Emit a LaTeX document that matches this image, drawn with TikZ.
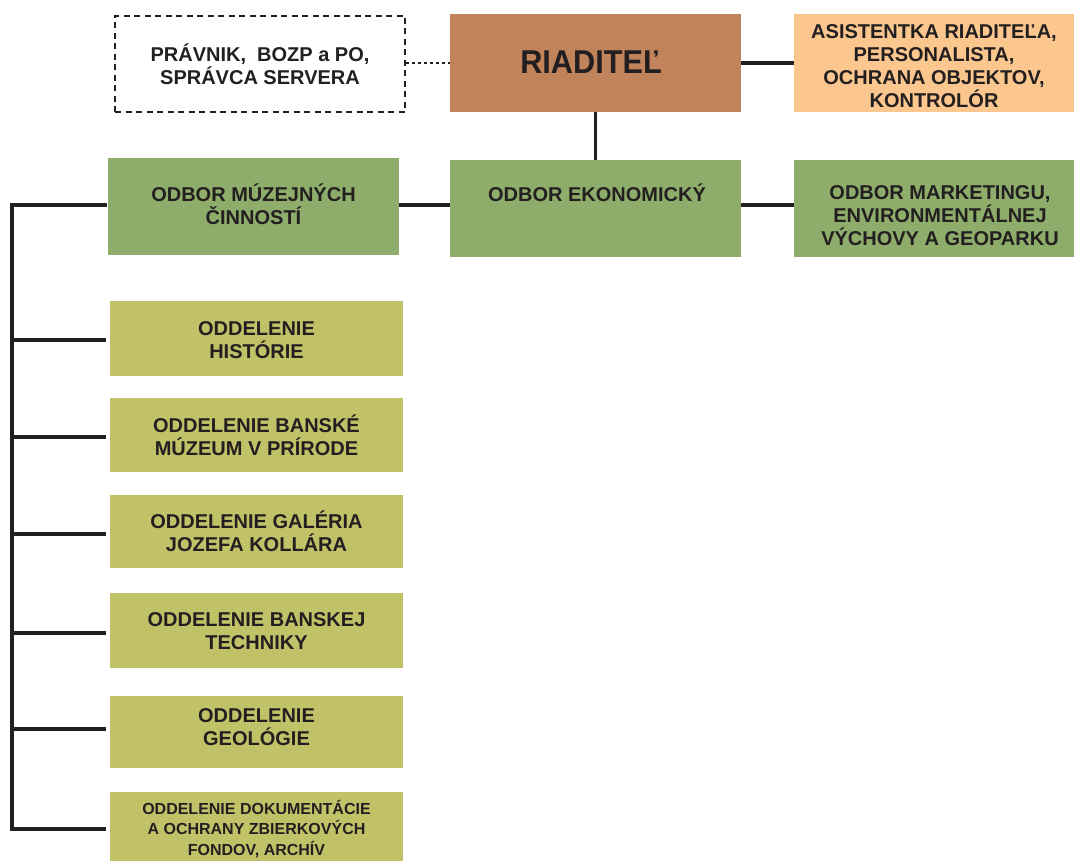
\documentclass[tikz,border=0pt]{standalone}
\usepackage{fontspec}
\setmainfont{Liberation Sans}
\definecolor{ink}{HTML}{231F20}
\definecolor{brown}{HTML}{C1845A}
\definecolor{peach}{HTML}{FBC78E}
\definecolor{grn}{HTML}{8EAD6B}
\definecolor{olive}{HTML}{C1C268}
\tikzset{
  box/.style={rectangle, inner sep=0pt, draw=none},
  lbl/.style={text=ink, font=\fontsize{20}{23}\selectfont\bfseries, align=center, inner sep=0pt},
  small/.style={text=ink, font=\fontsize{16}{20.5}\selectfont\bfseries, align=center, inner sep=0pt},
  conn/.style={draw=ink, line width=3.5pt},
}
\begin{document}
\begin{tikzpicture}[x=1pt,y=-1pt]
\useasboundingbox (0,0) rectangle (1074,861);
% top row
\node[box, draw=ink, line width=1.3pt, dash pattern=on 6pt off 4.5pt, minimum width=290pt, minimum height=96pt] (prav) at (260,64) {};
\node[lbl] at (260,64) {PRÁVNIK,\ \ BOZP a PO,\\SPRÁVCA SERVERA};
\node[box, fill=brown, minimum width=291pt, minimum height=98pt] (riad) at (595.5,63) {};
\node[text=ink, inner sep=0pt, font=\fontsize{33}{33}\selectfont\bfseries, xscale=0.93] at (591,62) {RIADITEĽ};
\node[box, fill=peach, minimum width=280pt, minimum height=98pt] (asis) at (934,63) {};
\node[lbl] at (934,66) {ASISTENTKA RIADITEĽA,\\PERSONALISTA,\\OCHRANA OBJEKTOV,\\KONTROLÓR};
% second row
\node[box, fill=grn, minimum width=291pt, minimum height=97pt] (muz) at (253.5,206.5) {};
\node[lbl] at (253.5,204) {ODBOR MÚZEJNÝCH\\ČINNOSTÍ};
\node[box, fill=grn, minimum width=291pt, minimum height=97pt] (eko) at (595.5,208.5) {};
\node[lbl] at (597,193) {ODBOR EKONOMICKÝ};
\node[box, fill=grn, minimum width=280pt, minimum height=97pt] (mark) at (934,208.5) {};
\node[lbl] at (940,216) {ODBOR MARKETINGU,\\ENVIRONMENTÁLNEJ\\VÝCHOVY A GEOPARKU};
% departments
\node[box, fill=olive, minimum width=293pt, minimum height=75pt] (o1) at (256.5,338.5) {};
\node[lbl] at (256.5,340) {ODDELENIE\\HISTÓRIE};
\node[box, fill=olive, minimum width=293pt, minimum height=74pt] (o2) at (256.5,435) {};
\node[lbl] at (256.5,435) {ODDELENIE BANSKÉ\\MÚZEUM V PRÍRODE};
\node[box, fill=olive, minimum width=293pt, minimum height=73pt] (o3) at (256.5,531.5) {};
\node[lbl] at (256.5,531) {ODDELENIE GALÉRIA\\JOZEFA KOLLÁRA};
\node[box, fill=olive, minimum width=293pt, minimum height=75pt] (o4) at (256.5,630.5) {};
\node[lbl] at (256.5,631) {ODDELENIE BANSKEJ\\TECHNIKY};
\node[box, fill=olive, minimum width=293pt, minimum height=72pt] (o5) at (256.5,732) {};
\node[lbl] at (256.5,727) {ODDELENIE\\GEOLÓGIE};
\node[box, fill=olive, minimum width=293pt, minimum height=78pt] (o6) at (256.5,831) {};
\node[small] at (256.5,829) {ODDELENIE DOKUMENTÁCIE\\A OCHRANY ZBIERKOVÝCH\\FONDOV, ARCHÍV};
% connectors
\draw[draw=ink, line width=1.3pt, dash pattern=on 3pt off 3pt] (prav.east |- riad.west) -- (riad.west);
\draw[conn] (riad.east) -- (asis.west);
\draw[conn] (riad.south) -- (eko.north);
\draw[conn] (muz.east |- 0,205) -- (eko.west |- 0,205);
\draw[conn] (eko.east |- 0,205) -- (mark.west |- 0,205);
\coordinate (tb) at (12,829);
\draw[conn] ([xshift=-1pt]muz.west |- 0,205) -| (tb) -- ([xshift=-4pt]o6.west |- tb);
\foreach \n/\yy in {o1/340, o2/437, o3/534, o4/633, o5/729}{
  \draw[conn] ([xshift=-4pt]\n.west |- 0,\yy) -- (tb |- 0,\yy);
}
\end{tikzpicture}
\end{document}
